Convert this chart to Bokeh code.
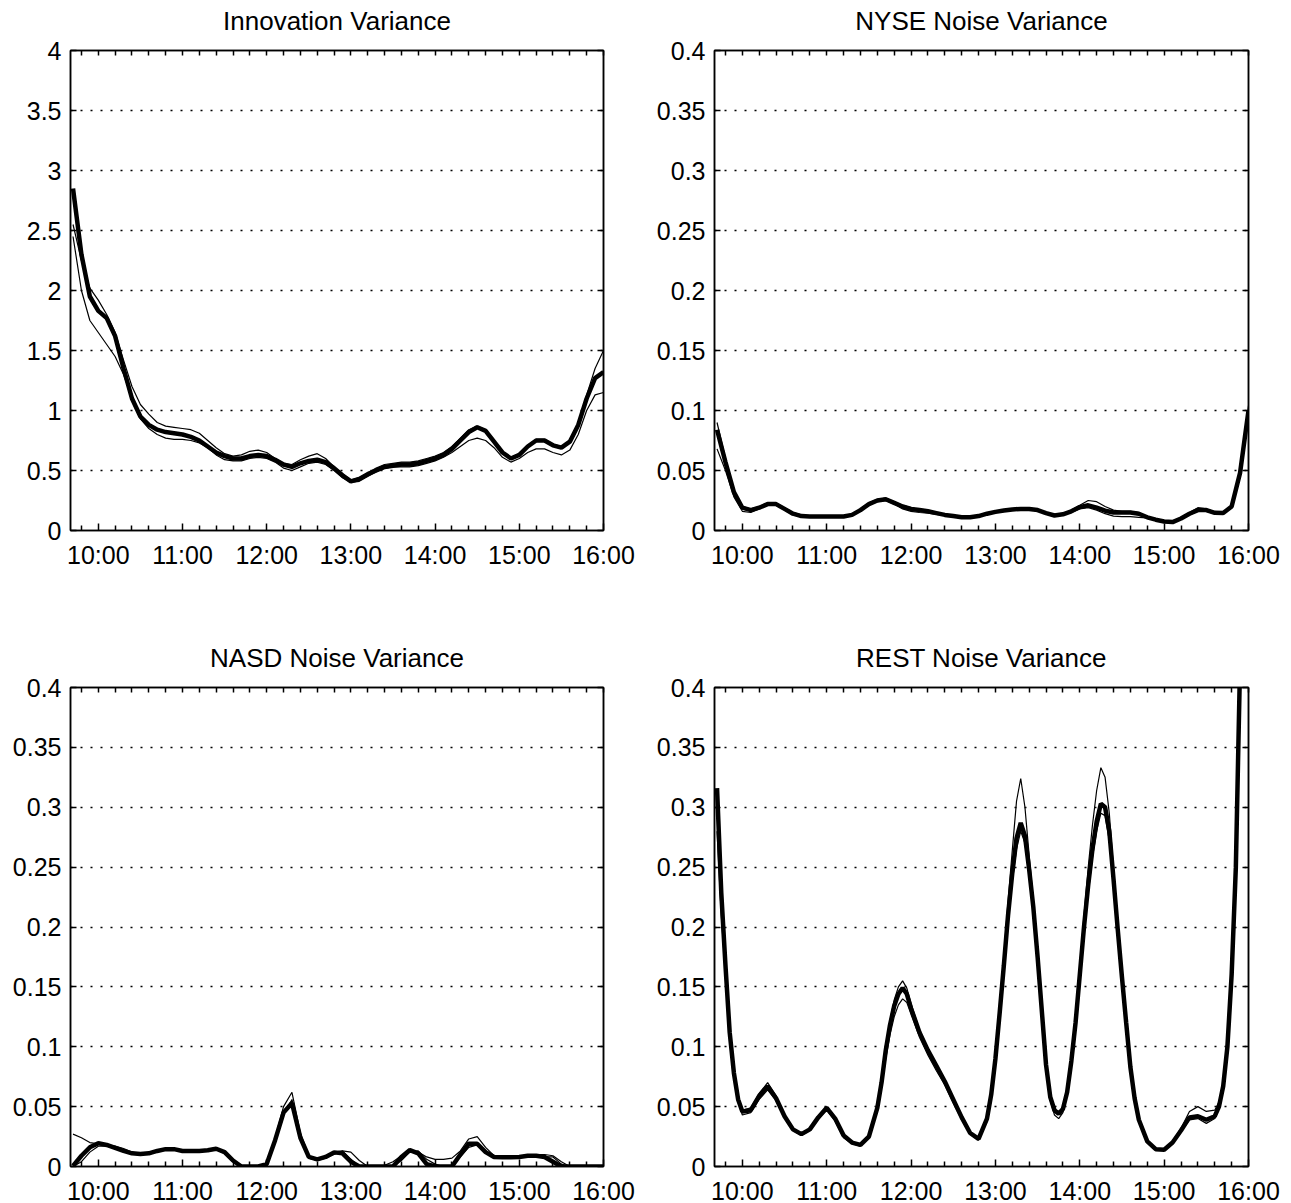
from bokeh.plotting import figure
from bokeh.models import (Range1d, FixedTicker, LinearAxis, GlobalInlineStyleSheet,
                          CustomLabelingPolicy)
from bokeh.layouts import column, row
from bokeh.embed import file_html
from bokeh.resources import INLINE

# ---------------- data ----------------
times = [round(9.7 + 0.1 * i, 1) for i in range(64)]   # 9:42 ... 16:00 in hours

innov_thick = [2.85, 2.3, 1.95, 1.83, 1.77, 1.62, 1.35, 1.1, 0.95, 0.88,
               0.84, 0.82, 0.81, 0.8, 0.78, 0.75, 0.7, 0.65, 0.62, 0.6,
               0.6, 0.62, 0.63, 0.62, 0.59, 0.55, 0.53, 0.56, 0.58, 0.59,
               0.57, 0.52, 0.46, 0.41, 0.43, 0.47, 0.5, 0.53, 0.54, 0.55,
               0.55, 0.56, 0.58, 0.6, 0.63, 0.68, 0.75, 0.82, 0.86, 0.83,
               0.74, 0.65, 0.6, 0.63, 0.7, 0.75, 0.75, 0.71, 0.69, 0.74,
               0.88, 1.1, 1.27, 1.32]
innov_upper = [2.55, 2.25, 2.02, 1.92, 1.8, 1.65, 1.42, 1.2, 1.05, 0.97,
               0.9, 0.87, 0.86, 0.85, 0.84, 0.81, 0.75, 0.69, 0.64, 0.62,
               0.63, 0.66, 0.67, 0.65, 0.6, 0.56, 0.55, 0.59, 0.62, 0.64,
               0.6, 0.53, 0.47, 0.42, 0.44, 0.48, 0.52, 0.55, 0.56, 0.57,
               0.57, 0.58, 0.6, 0.62, 0.65, 0.7, 0.77, 0.84, 0.87, 0.84,
               0.75, 0.66, 0.61, 0.64, 0.71, 0.76, 0.76, 0.72, 0.7, 0.75,
               0.9, 1.13, 1.35, 1.5]
innov_lower = [2.45, 2.0, 1.75, 1.65, 1.55, 1.45, 1.3, 1.1, 0.93, 0.85,
               0.8, 0.77, 0.76, 0.76, 0.75, 0.73, 0.69, 0.63, 0.59, 0.58,
               0.58, 0.6, 0.61, 0.6, 0.57, 0.52, 0.5, 0.53, 0.56, 0.57,
               0.55, 0.5, 0.44, 0.4, 0.41, 0.45, 0.49, 0.52, 0.53, 0.53,
               0.53, 0.54, 0.56, 0.58, 0.61, 0.65, 0.7, 0.75, 0.77, 0.75,
               0.69, 0.61, 0.57, 0.6, 0.65, 0.68, 0.68, 0.65, 0.63, 0.67,
               0.8, 1.0, 1.13, 1.15]

nyse_thick = [0.084, 0.057, 0.032, 0.019, 0.017, 0.019, 0.022, 0.022, 0.018, 0.014,
              0.012, 0.0117, 0.0117, 0.0117, 0.0117, 0.0117, 0.013, 0.017, 0.022, 0.025,
              0.026, 0.023, 0.02, 0.018, 0.017, 0.016, 0.0145, 0.013, 0.012, 0.011,
              0.011, 0.012, 0.014, 0.0155, 0.0167, 0.0175, 0.018, 0.018, 0.017, 0.0145,
              0.0125, 0.0135, 0.016, 0.0195, 0.021, 0.019, 0.0165, 0.015, 0.015, 0.015,
              0.014, 0.011, 0.009, 0.0075, 0.007, 0.01, 0.014, 0.017, 0.017, 0.0147,
              0.0145, 0.02, 0.048, 0.1]
nyse_upper = [0.09, 0.06, 0.033, 0.02, 0.018, 0.02, 0.023, 0.023, 0.019, 0.015,
              0.013, 0.012, 0.012, 0.012, 0.012, 0.012, 0.0135, 0.018, 0.023, 0.026,
              0.027, 0.024, 0.021, 0.019, 0.0175, 0.0165, 0.015, 0.0135, 0.0125, 0.0115,
              0.0115, 0.0125, 0.0145, 0.016, 0.017, 0.018, 0.0185, 0.0185, 0.0175, 0.015,
              0.013, 0.014, 0.017, 0.021, 0.025, 0.024, 0.02, 0.017, 0.016, 0.016,
              0.015, 0.0115, 0.0095, 0.008, 0.0075, 0.0105, 0.015, 0.019, 0.018, 0.0155,
              0.015, 0.021, 0.05, 0.104]
nyse_lower = [0.068, 0.05, 0.028, 0.016, 0.015, 0.018, 0.021, 0.021, 0.017, 0.013,
              0.0115, 0.011, 0.011, 0.011, 0.011, 0.011, 0.0125, 0.016, 0.021, 0.024,
              0.025, 0.022, 0.018, 0.016, 0.015, 0.0145, 0.0135, 0.0125, 0.0115, 0.0105,
              0.0105, 0.0115, 0.0135, 0.015, 0.016, 0.017, 0.0175, 0.0175, 0.0165, 0.014,
              0.012, 0.013, 0.015, 0.018, 0.019, 0.017, 0.014, 0.012, 0.0115, 0.0115,
              0.011, 0.0105, 0.0085, 0.007, 0.0068, 0.0095, 0.013, 0.016, 0.016, 0.014,
              0.014, 0.019, 0.045, 0.095]

nasd_thick = [0.0005, 0.009, 0.016, 0.0195, 0.018, 0.0155, 0.013, 0.011, 0.0105, 0.011,
              0.013, 0.0145, 0.0145, 0.013, 0.013, 0.013, 0.0135, 0.0148, 0.012, 0.005,
              0.0, 0.0, 0.0, 0.002, 0.022, 0.045, 0.053, 0.024, 0.008, 0.006,
              0.008, 0.0118, 0.011, 0.004, 0.0, 0.0, 0.0, 0.0, 0.0, 0.008,
              0.0137, 0.011, 0.002, 0.0, 0.0, 0.0, 0.01, 0.019, 0.019, 0.012,
              0.008, 0.0077, 0.0077, 0.008, 0.009, 0.009, 0.008, 0.004, 0.0, 0.0,
              0.0, 0.0, 0.0, 0.0]
nasd_upper = [0.027, 0.024, 0.02, 0.019, 0.018, 0.017, 0.015, 0.012, 0.011, 0.011,
              0.013, 0.0145, 0.015, 0.013, 0.013, 0.013, 0.014, 0.015, 0.012, 0.005,
              0.0, 0.0, 0.0, 0.003, 0.024, 0.05, 0.062, 0.028, 0.009, 0.006,
              0.007, 0.01, 0.013, 0.012, 0.005, 0.0, 0.0, 0.001, 0.004, 0.009,
              0.0125, 0.012, 0.008, 0.006, 0.006, 0.007, 0.013, 0.023, 0.025, 0.016,
              0.009, 0.008, 0.008, 0.008, 0.009, 0.01, 0.01, 0.009, 0.004, 0.0,
              0.0, 0.0, 0.0, 0.0]
nasd_lower = [0.0, 0.004, 0.012, 0.017, 0.017, 0.015, 0.0125, 0.0105, 0.01, 0.0105,
              0.0125, 0.014, 0.014, 0.0125, 0.0125, 0.0125, 0.013, 0.014, 0.011, 0.004,
              0.0, 0.0, 0.0, 0.001, 0.02, 0.043, 0.056, 0.026, 0.007, 0.005,
              0.007, 0.012, 0.013, 0.006, 0.0, 0.0, 0.0, 0.0, 0.0, 0.005,
              0.012, 0.013, 0.006, 0.002, 0.0, 0.0, 0.008, 0.016, 0.018, 0.011,
              0.0075, 0.007, 0.007, 0.0075, 0.0085, 0.0085, 0.008, 0.008, 0.002, 0.0,
              0.0, 0.0, 0.0, 0.0]

rest_times = [9.70, 9.75, 9.80, 9.85, 9.90, 9.95,
              10.0, 10.1, 10.2, 10.3, 10.4, 10.5, 10.6, 10.7, 10.8, 10.9,
              11.0, 11.1, 11.2, 11.3, 11.4, 11.5, 11.6,
              11.65, 11.7, 11.75, 11.8, 11.85, 11.9, 11.95,
              12.0, 12.1, 12.2, 12.3, 12.4, 12.5, 12.6, 12.7, 12.8, 12.9, 12.95,
              13.0, 13.05, 13.1, 13.15, 13.2, 13.25, 13.3, 13.35, 13.4, 13.45,
              13.5, 13.55, 13.6, 13.65, 13.7, 13.75, 13.8, 13.85, 13.9, 13.95,
              14.0, 14.05, 14.1, 14.15, 14.2, 14.25, 14.3, 14.35, 14.4, 14.45,
              14.5, 14.55, 14.6, 14.65, 14.7,
              14.8, 14.9, 15.0, 15.1, 15.2, 15.3, 15.4, 15.5, 15.6,
              15.65, 15.7, 15.75, 15.8, 15.85, 15.9, 15.95, 16.0]
rest_thick = [0.316, 0.229, 0.168, 0.112, 0.078, 0.056,
              0.046, 0.047, 0.059, 0.067, 0.057, 0.042, 0.031, 0.027, 0.031, 0.041,
              0.049, 0.04, 0.026, 0.02, 0.018, 0.025, 0.049,
              0.07, 0.097, 0.118, 0.134, 0.144, 0.149, 0.144,
              0.132, 0.112, 0.097, 0.084, 0.071, 0.056, 0.041, 0.028, 0.023, 0.04, 0.06,
              0.09, 0.128, 0.168, 0.21, 0.245, 0.274, 0.287, 0.276, 0.248, 0.216,
              0.175, 0.13, 0.085, 0.058, 0.047, 0.044, 0.048, 0.062, 0.088, 0.12,
              0.16, 0.2, 0.235, 0.265, 0.288, 0.303, 0.3, 0.28, 0.24, 0.198,
              0.158, 0.12, 0.083, 0.057, 0.039,
              0.021, 0.0145, 0.014, 0.02, 0.03, 0.041, 0.042, 0.039, 0.042,
              0.05, 0.067, 0.1, 0.16, 0.25, 0.42, 0.55, 0.65]
rest_upper = [0.30, 0.22, 0.165, 0.11, 0.077, 0.056,
              0.047, 0.049, 0.061, 0.07, 0.059, 0.043, 0.031, 0.027, 0.031, 0.042,
              0.05, 0.041, 0.026, 0.02, 0.018, 0.025, 0.05,
              0.072, 0.1, 0.122, 0.139, 0.15, 0.155, 0.149,
              0.136, 0.114, 0.098, 0.085, 0.072, 0.057, 0.042, 0.029, 0.023, 0.041, 0.062,
              0.093, 0.133, 0.176, 0.222, 0.264, 0.305, 0.324, 0.3, 0.26, 0.222,
              0.178, 0.132, 0.087, 0.059, 0.047, 0.044, 0.049, 0.064, 0.091, 0.124,
              0.166, 0.21, 0.25, 0.285, 0.314, 0.333, 0.325, 0.295, 0.248, 0.203,
              0.161, 0.122, 0.085, 0.058, 0.04,
              0.021, 0.0145, 0.014, 0.021, 0.032, 0.046, 0.05, 0.046, 0.047,
              0.054, 0.07, 0.103, 0.165, 0.27, 0.45, 0.6, 0.7]
rest_lower = [0.28, 0.21, 0.16, 0.108, 0.075, 0.054,
              0.043, 0.045, 0.056, 0.064, 0.055, 0.041, 0.03, 0.026, 0.03, 0.04,
              0.047, 0.038, 0.024, 0.019, 0.017, 0.024, 0.046,
              0.066, 0.09, 0.11, 0.125, 0.135, 0.14, 0.137,
              0.127, 0.108, 0.093, 0.08, 0.068, 0.053, 0.039, 0.027, 0.022, 0.038, 0.058,
              0.087, 0.124, 0.163, 0.204, 0.238, 0.265, 0.28, 0.27, 0.242, 0.21,
              0.17, 0.126, 0.082, 0.055, 0.043, 0.04, 0.045, 0.06, 0.086, 0.117,
              0.156, 0.195, 0.228, 0.258, 0.28, 0.295, 0.293, 0.272, 0.233, 0.192,
              0.153, 0.116, 0.08, 0.055, 0.037,
              0.02, 0.014, 0.0135, 0.019, 0.029, 0.039, 0.04, 0.036, 0.04,
              0.048, 0.064, 0.096, 0.155, 0.24, 0.4, 0.52, 0.6]

hour_ticks = [10, 11, 12, 13, 14, 15, 16]
hour_labels = ["10:00", "11:00", "12:00", "13:00", "14:00", "15:00", "16:00"]
minor_x_ticks = [9.8, 10.2, 10.4, 10.6, 10.8, 11.2, 11.4, 11.6, 11.8,
                 12.2, 12.4, 12.6, 12.8, 13.2, 13.4, 13.6, 13.8,
                 14.2, 14.4, 14.6, 14.8, 15.2, 15.4, 15.6, 15.8]

innov_ticks = [0, 0.5, 1, 1.5, 2, 2.5, 3, 3.5, 4]
innov_labels = ["0", "0.5", "1", "1.5", "2", "2.5", "3", "3.5", "4"]
noise_ticks = [0, 0.05, 0.1, 0.15, 0.2, 0.25, 0.3, 0.35, 0.4]
noise_labels = ["0", "0.05", "0.1", "0.15", "0.2", "0.25", "0.3", "0.35", "0.4"]

FONT = "Liberation Sans"
NO_LABELS = "return []"


def top_axis():
    # frame-side ticks (all 12-minute marks) with no labels; the invisible
    # outward minor ticks only reserve room between the frame and the title
    return LinearAxis(ticker=FixedTicker(ticks=sorted(hour_ticks + minor_x_ticks),
                                         minor_ticks=minor_x_ticks),
                      major_label_policy=CustomLabelingPolicy(code=NO_LABELS),
                      major_label_text_font_size="0px", major_label_standoff=0,
                      major_tick_in=5, major_tick_out=0,
                      minor_tick_in=0, minor_tick_out=14,
                      axis_line_color="black", axis_line_width=1.5,
                      major_tick_line_color="black", major_tick_line_width=1.5,
                      minor_tick_line_color=None)


def right_axis(yticks):
    return LinearAxis(ticker=FixedTicker(ticks=yticks, minor_ticks=[]),
                      major_label_policy=CustomLabelingPolicy(code=NO_LABELS),
                      major_label_text_font_size="0px", major_label_standoff=0,
                      major_tick_in=6, major_tick_out=0,
                      minor_tick_in=0, minor_tick_out=0,
                      axis_line_color="black", axis_line_width=1.5,
                      major_tick_line_color="black", major_tick_line_width=1.5)


def panel(title, t, thick, thins, yticks, ylabels, ymax, w, h, bl, br, bt, bb):
    p = figure(width=w, height=h, title=title, output_backend="svg",
               toolbar_location=None,
               x_range=Range1d(9.67, 16.0), y_range=Range1d(0, ymax),
               min_border_left=bl, min_border_right=br,
               min_border_top=bt, min_border_bottom=bb)
    p.title.text_font = FONT
    p.title.text_font_size = "26px"
    p.title.text_font_style = "normal"
    p.title.text_color = "black"
    p.title.align = "center"
    p.title.standoff = 2
    p.background_fill_color = "white"
    p.border_fill_color = "white"
    p.outline_line_color = "black"
    p.outline_line_width = 1.5

    p.xgrid.visible = False
    p.ygrid.ticker = FixedTicker(ticks=yticks)
    p.ygrid.grid_line_color = "black"
    p.ygrid.grid_line_dash = "2 8"
    p.ygrid.grid_line_width = 1.6

    xa = p.xaxis[0]
    xa.ticker = FixedTicker(ticks=hour_ticks, minor_ticks=minor_x_ticks)
    xa.major_label_overrides = dict(zip(hour_ticks, hour_labels))
    ya = p.yaxis[0]
    ya.ticker = FixedTicker(ticks=yticks, minor_ticks=[])
    ya.major_label_overrides = dict(zip(yticks, ylabels))
    for ax in (xa, ya):
        ax.major_label_text_font = FONT
        ax.major_label_text_font_size = "25px"
        ax.major_label_text_color = "black"
        ax.axis_line_color = "black"
        ax.axis_line_width = 1.5
        ax.major_tick_line_color = "black"
        ax.major_tick_line_width = 1.5
        ax.minor_tick_line_color = "black"
        ax.minor_tick_line_width = 1.5
        ax.major_tick_in = 7
        ax.major_tick_out = 0
        ax.minor_tick_in = 5
        ax.minor_tick_out = 0
    ya.major_tick_in = 6
    xa.major_label_standoff = 10
    ya.major_label_standoff = 9

    p.add_layout(top_axis(), "above")
    p.add_layout(right_axis(yticks), "right")

    for s in thins:
        p.line(t, s, line_color="black", line_width=1.2)
    p.line(t, thick, line_color="black", line_width=4.5)
    return p


p1 = panel("Innovation Variance", times, innov_thick, [innov_upper, innov_lower],
           innov_ticks, innov_labels, 4, 645, 600, 70, 42, 50, 70)
p2 = panel("NYSE Noise Variance", times, nyse_thick, [nyse_upper, nyse_lower],
           noise_ticks, noise_labels, 0.4, 646, 600, 69, 43, 50, 70)
p3 = panel("NASD Noise Variance", times, nasd_thick, [nasd_upper, nasd_lower],
           noise_ticks, noise_labels, 0.4, 645, 607, 70, 42, 87, 40)
p4 = panel("REST Noise Variance", rest_times, rest_thick, [rest_upper, rest_lower],
           noise_ticks, noise_labels, 0.4, 646, 607, 69, 43, 87, 40)

layout = column(row(p1, p2), row(p3, p4),
                stylesheets=[GlobalInlineStyleSheet(css="html, body { overflow: hidden; }")])

open("out.html", "w").write(file_html(layout, INLINE))
